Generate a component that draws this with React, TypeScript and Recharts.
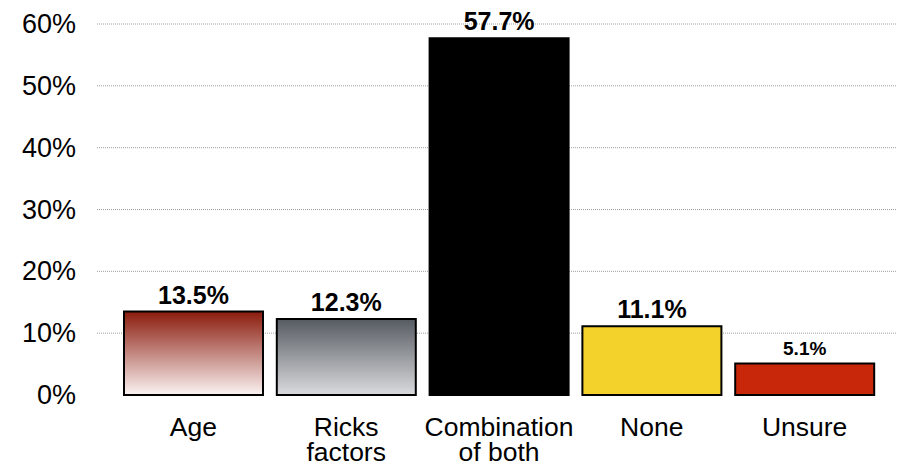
import React from "react";
import { BarChart, Bar, XAxis, YAxis, CartesianGrid, Cell, LabelList } from "recharts";

const categories = ["Age", "Ricks factors", "Combination of both", "None", "Unsure"];
const values = [13.5, 12.3, 57.7, 11.1, 5.1];
const valueLabels = ["13.5%", "12.3%", "57.7%", "11.1%", "5.1%"];
const yTicks = [0, 10, 20, 30, 40, 50, 60];
const xLabelLines = [["Age"], ["Ricks", "factors"], ["Combination", "of both"], ["None"], ["Unsure"]];

const fills = ["url(#gradAge)", "url(#gradRisk)", "#000000", "#F4D22C", "#C8270A"];
const labelSizes = [25, 25, 25, 25, 19];

const data = categories.map((c, i) => ({ name: c, value: values[i], label: valueLabels[i], idx: i }));

const FONT = "'Liberation Sans', Arial, Helvetica, sans-serif";

const YTick = (props: any) => {
  const { x, y, payload } = props;
  return (
    <text x={x} y={y} dy={9} textAnchor="end" fontSize={27} fontFamily={FONT} fill="#000">
      {payload.value}%
    </text>
  );
};

const XTick = (props: any) => {
  const { x, y, index } = props;
  const lines = xLabelLines[index] || [];
  return (
    <text x={x} y={y} textAnchor="middle" fontSize={26.5} fontFamily={FONT} fill="#000">
      {lines.map((l, i) => (
        <tspan key={i} x={x} y={y + 41 + i * 25}>
          {l}
        </tspan>
      ))}
    </text>
  );
};

const ValueLabel = (props: any) => {
  const { x, y, width, index } = props;
  const i = index as number;
  return (
    <text
      x={x + width / 2}
      y={y - 8}
      textAnchor="middle"
      fontSize={labelSizes[i]}
      fontWeight="bold"
      fontFamily={FONT}
      fill="#000"
    >
      {valueLabels[i]}
    </text>
  );
};

export default function App() {
  return (
    <div style={{ position: "absolute", left: 0, top: 0, background: "#fff" }}>
      <BarChart
        width={897}
        height={469}
        data={data}
        margin={{ top: 24, right: 0, bottom: 0, left: 0 }}
      >
        <defs>
          <linearGradient id="gradAge" x1="0" y1="0" x2="0" y2="1">
            <stop offset="0%" stopColor="#8A1B0C" />
            <stop offset="100%" stopColor="#FBF3F3" />
          </linearGradient>
          <linearGradient id="gradRisk" x1="0" y1="0" x2="0" y2="1">
            <stop offset="0%" stopColor="#565B62" />
            <stop offset="100%" stopColor="#DADBDD" />
          </linearGradient>
        </defs>
        <CartesianGrid
          vertical={false}
          horizontalValues={[10, 20, 30, 40, 50, 60]}
          stroke="#a0a0a0"
          strokeDasharray="1 1"
          strokeWidth={1}
        />
        <XAxis
          dataKey="name"
          axisLine={false}
          tickLine={false}
          interval={0}
          height={74}
          padding={{ left: 20, right: 16 }}
          tick={<XTick />}
          tickSize={0}
          tickMargin={0}
        />
        <YAxis
          width={97}
          domain={[0, 60]}
          ticks={yTicks}
          axisLine={false}
          tickLine={false}
          tickSize={0}
          tickMargin={21}
          tick={<YTick />}
          interval={0}
        />
        <Bar dataKey="value" barSize={139} isAnimationActive={false} stroke="#000" strokeWidth={2}>
          {data.map((d, i) => (
            <Cell key={i} fill={fills[i]} />
          ))}
          <LabelList dataKey="value" content={<ValueLabel />} />
        </Bar>
      </BarChart>
    </div>
  );
}
